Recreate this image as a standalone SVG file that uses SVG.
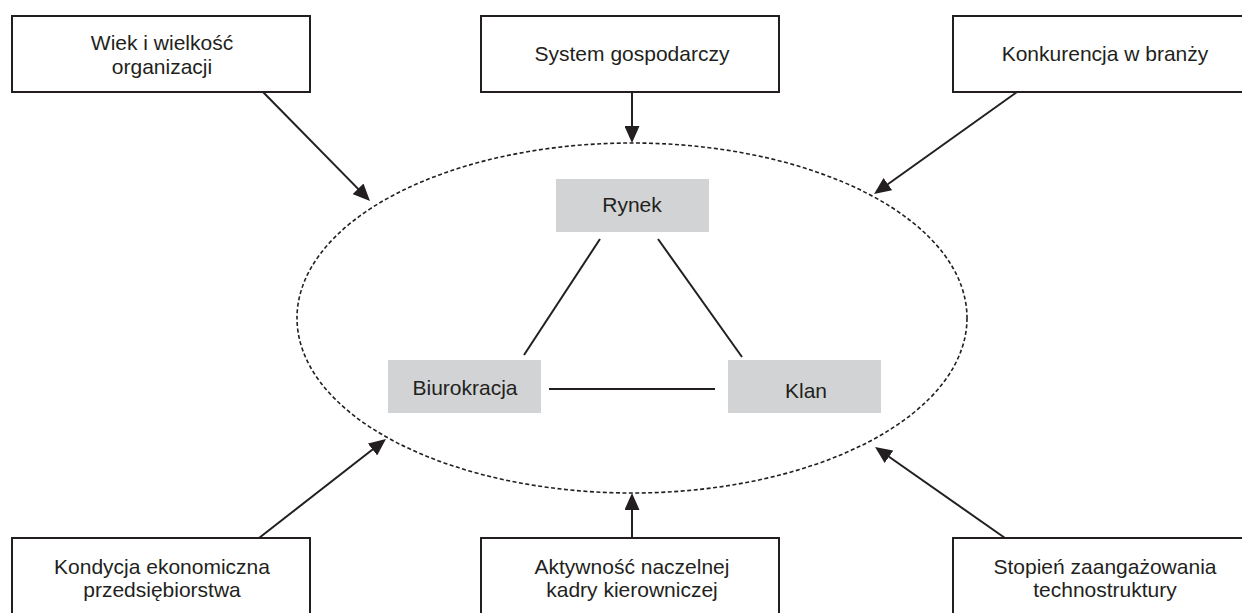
<svg xmlns="http://www.w3.org/2000/svg" width="1242" height="613" viewBox="0 0 1242 613">
  <defs>
    <marker id="arrow" markerUnits="userSpaceOnUse" markerWidth="17" markerHeight="15" refX="13" refY="7.5" orient="auto">
      <path d="M0,0 L17,7.5 L0,15 z" fill="#231f20"/>
    </marker>
  </defs>
  <style>
    .factor { fill: #ffffff; stroke: #231f20; stroke-width: 2; }
    .form { fill: #d1d3d4; stroke: none; }
    .label { font-family: "Liberation Sans", Arial, sans-serif; font-size: 21px; fill: #231f20; text-anchor: middle; }
    .arrow { stroke: #231f20; stroke-width: 2; fill: none; marker-end: url(#arrow); }
    .link { stroke: #231f20; stroke-width: 2; fill: none; }
    .boundary { fill: none; stroke: #231f20; stroke-width: 1.6; stroke-dasharray: 4 2.5; }
  </style>
  <rect width="1242" height="613" fill="#ffffff"/>

  <!-- dashed boundary around the three forms of control -->
  <ellipse id="boundary" class="boundary" cx="632" cy="318" rx="335" ry="175"/>

  <!-- external factors -->
  <g id="wiek">
    <rect class="factor" x="12" y="16" width="298" height="76"/>
    <text class="label" x="162" y="50">Wiek i wielkość</text>
    <text class="label" x="162" y="74">organizacji</text>
  </g>
  <g id="system">
    <rect class="factor" x="481" y="16" width="298" height="76"/>
    <text class="label" x="632" y="61">System gospodarczy</text>
  </g>
  <g id="konkurencja">
    <rect class="factor" x="953" y="16" width="298" height="76"/>
    <text class="label" x="1105" y="61">Konkurencja w branży</text>
  </g>
  <g id="kondycja">
    <rect class="factor" x="12" y="538" width="298" height="80"/>
    <text class="label" x="162" y="574">Kondycja ekonomiczna</text>
    <text class="label" x="162" y="597">przedsiębiorstwa</text>
  </g>
  <g id="aktywnosc">
    <rect class="factor" x="481" y="538" width="298" height="80"/>
    <text class="label" x="632" y="574">Aktywność naczelnej</text>
    <text class="label" x="632" y="597">kadry kierowniczej</text>
  </g>
  <g id="stopien">
    <rect class="factor" x="953" y="538" width="298" height="80"/>
    <text class="label" x="1105" y="574">Stopień zaangażowania</text>
    <text class="label" x="1105" y="597">technostruktury</text>
  </g>

  <!-- forms of control -->
  <g id="rynek">
    <rect class="form" x="556" y="179" width="153" height="53"/>
    <text class="label" x="632" y="212">Rynek</text>
  </g>
  <g id="biurokracja">
    <rect class="form" x="388" y="360" width="153" height="53"/>
    <text class="label" x="465" y="395">Biurokracja</text>
  </g>
  <g id="klan">
    <rect class="form" x="728" y="360" width="153" height="53"/>
    <text class="label" x="806" y="398">Klan</text>
  </g>

  <!-- connectors -->
  <g id="connectors">
    <line class="link" x1="600" y1="239" x2="524" y2="355"/>
    <line class="link" x1="658" y1="239" x2="742" y2="357"/>
    <line class="link" x1="549" y1="389" x2="715" y2="389"/>

    <line class="arrow" x1="263" y1="92" x2="367.2" y2="198.1"/>
    <line class="arrow" x1="632" y1="92" x2="632" y2="139"/>
    <line class="arrow" x1="1017" y1="92" x2="877.3" y2="191.7"/>
    <line class="arrow" x1="259" y1="538" x2="382.8" y2="441.5"/>
    <line class="arrow" x1="632" y1="538" x2="632" y2="497"/>
    <line class="arrow" x1="1005" y1="538" x2="878.3" y2="449.3"/>
  </g>
</svg>
